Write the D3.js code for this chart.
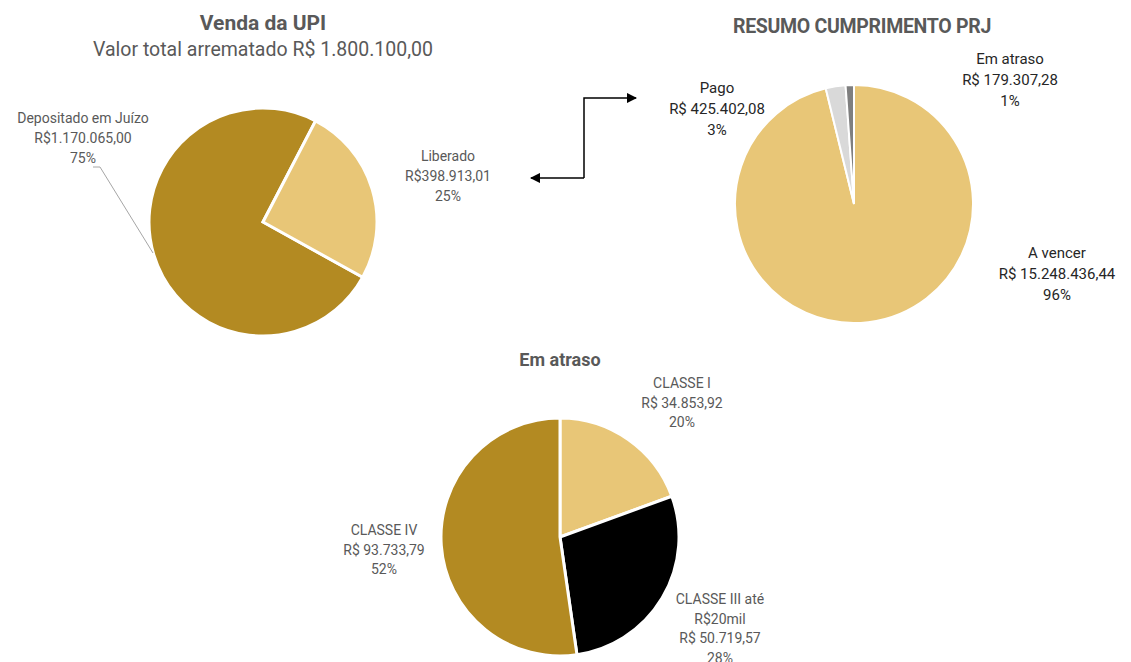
<!DOCTYPE html>
<html>
<head>
<meta charset="utf-8">
<script src="https://cdn.jsdelivr.net/npm/d3@7"></script>
<style>
  body { margin: 0; background: #fff; }
  svg { display: block; }
  text { font-family: "Liberation Sans Narrow", "Roboto", sans-serif; }
</style>
</head>
<body>
<div id="plot"></div>
<script>
// Venda da UPI
var upiLabels = ["Depositado em Juízo", "Liberado"];
var upiValues = [1170065.00, 398913.01];
var upiValueText = ["R$1.170.065,00", "R$398.913,01"];
var upiPct = ["75%", "25%"];
var upiColors = ["#b38a22", "#e8c677"];

// Resumo cumprimento PRJ
var prjLabels = ["A vencer", "Pago", "Em atraso"];
var prjValues = [15248436.44, 425402.08, 179307.28];
var prjValueText = ["R$ 15.248.436,44", "R$ 425.402,08", "R$ 179.307,28"];
var prjPct = ["96%", "3%", "1%"];
var prjColors = ["#e8c677", "#d9d9d9", "#7f7f7f"];

// Em atraso
var atrLabels = [["CLASSE I"], ["CLASSE III até", "R$20mil"], ["CLASSE IV"]];
var atrValues = [34853.92, 50719.57, 93733.79];
var atrValueText = ["R$ 34.853,92", "R$ 50.719,57", "R$ 93.733,79"];
var atrPct = ["20%", "28%", "52%"];
var atrColors = ["#e8c677", "#000000", "#b38a22"];

var w = 1131;
var h = 662;
var grey = "#595959";
var deg = Math.PI / 180;

var svg = d3.select("#plot").append("svg").attr("width", w).attr("height", h);

svg.append("defs").append("marker")
  .attr("id", "arrow")
  .attr("viewBox", "0 0 10 10")
  .attr("refX", 9).attr("refY", 5)
  .attr("markerWidth", 7).attr("markerHeight", 7)
  .attr("orient", "auto-start-reverse")
  .append("path")
  .attr("d", "M0,0 L10,5 L0,10 z")
  .attr("fill", "#000");

function drawPie(cx, cy, r, values, colors, start, strokeW) {
  var pie = d3.pie().sort(null).startAngle(start).endAngle(start + 2 * Math.PI);
  var arc = d3.arc().innerRadius(0).outerRadius(r);
  var g = svg.append("g").attr("transform", "translate(" + cx + "," + cy + ")");
  g.selectAll("path")
    .data(pie(values))
    .enter()
    .append("path")
    .attr("d", arc)
    .attr("fill", function(d, i) { return colors[i]; })
    .attr("stroke", "#fff")
    .attr("stroke-width", strokeW);
  return g;
}

function label(x, y, lines, size, color, gap) {
  var t = svg.append("text")
    .attr("x", x).attr("y", y)
    .attr("text-anchor", "middle")
    .attr("font-size", size)
    .attr("fill", color);
  lines.forEach(function(l, i) {
    t.append("tspan").attr("x", x).attr("dy", i == 0 ? 0 : gap).text(l);
  });
}

// ---- chart 1
svg.append("text").attr("x", 263).attr("y", 30).attr("text-anchor", "middle")
  .attr("font-size", 21).attr("font-weight", "bold").attr("fill", grey)
  .text("Venda da UPI");
svg.append("text").attr("x", 263).attr("y", 56).attr("text-anchor", "middle")
  .attr("font-size", 19.5).attr("fill", grey)
  .text("Valor total arrematado R$ 1.800.100,00");

drawPie(263, 222, 114, upiValues, upiColors, 119 * deg, 3);

svg.append("polyline")
  .attr("points", "93,167 100,167 153,253")
  .attr("fill", "none").attr("stroke", "#a6a6a6").attr("stroke-width", 1);

label(83, 123, [upiLabels[0], upiValueText[0], upiPct[0]], 14, grey, 20);
label(448, 161, [upiLabels[1], upiValueText[1], upiPct[1]], 14, grey, 20);

// connector arrows
svg.append("path")
  .attr("d", "M584,178 L584,98 L636,98")
  .attr("fill", "none").attr("stroke", "#000").attr("stroke-width", 1.5)
  .attr("marker-end", "url(#arrow)");
svg.append("path")
  .attr("d", "M584,178 L531,178")
  .attr("fill", "none").attr("stroke", "#000").attr("stroke-width", 1.5)
  .attr("marker-end", "url(#arrow)");

// ---- chart 2
svg.append("text").attr("x", 862).attr("y", 33).attr("text-anchor", "middle")
  .attr("font-size", 19.5).attr("font-weight", "bold").attr("fill", grey)
  .attr("letter-spacing", -0.3)
  .text("RESUMO CUMPRIMENTO PRJ");

drawPie(854, 204, 119, prjValues, prjColors, 0, 2);

label(717, 93, [prjLabels[1], prjValueText[1], prjPct[1]], 15, "#262626", 21);
label(1010, 64, [prjLabels[2], prjValueText[2], prjPct[2]], 15, "#262626", 21);
label(1057, 258, [prjLabels[0], prjValueText[0], prjPct[0]], 15, "#262626", 21);

// ---- chart 3
svg.append("text").attr("x", 560).attr("y", 366).attr("text-anchor", "middle")
  .attr("font-size", 18).attr("font-weight", "bold").attr("fill", grey)
  .text("Em atraso");

drawPie(560, 537, 119, atrValues, atrColors, 0, 3);

label(682, 388, atrLabels[0].concat([atrValueText[0], atrPct[0]]), 14, grey, 19.5);
label(720, 604, atrLabels[1].concat([atrValueText[1], atrPct[1]]), 14, grey, 19.5);
label(384, 535, atrLabels[2].concat([atrValueText[2], atrPct[2]]), 14, grey, 19.5);
</script>
</body>
</html>
